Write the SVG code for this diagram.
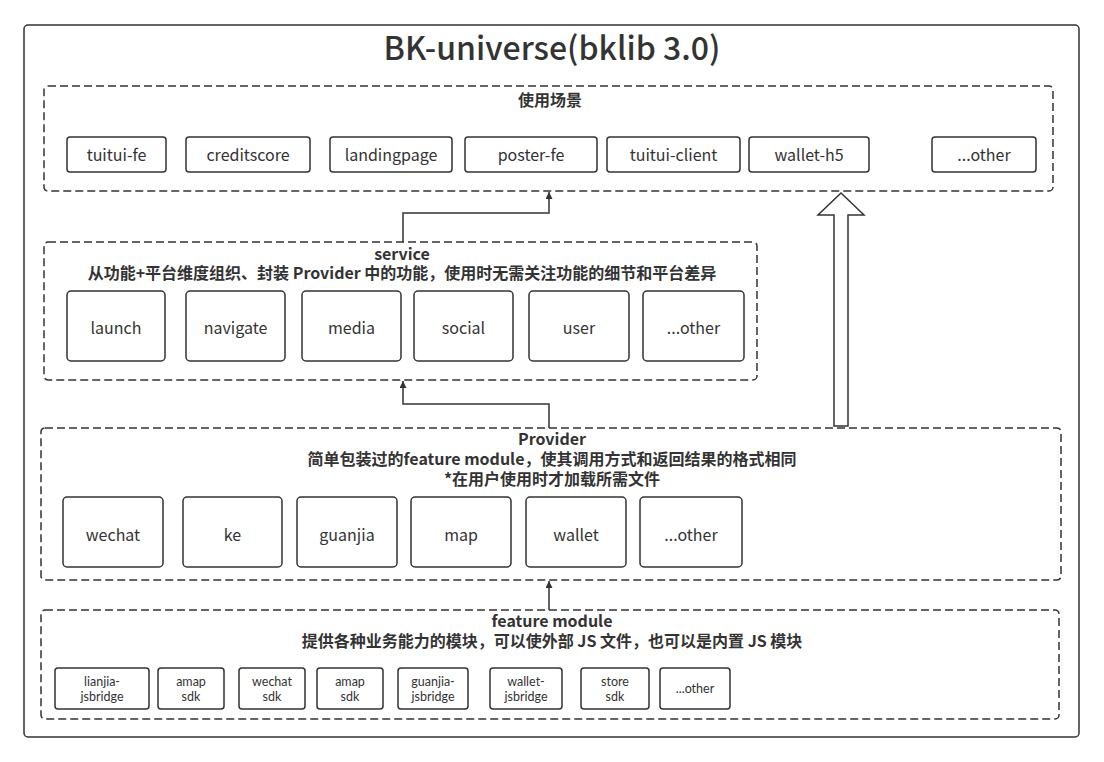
<svg xmlns="http://www.w3.org/2000/svg" width="1104" height="762" viewBox="0 0 1104 762">
<defs>
<style>
text{font-family:"Noto Sans CJK SC","Open Sans",sans-serif;fill:#333;text-anchor:middle}
.box{fill:#fff;stroke:#333;stroke-width:1.5}
.grp{fill:none;stroke:#333;stroke-width:1.5;stroke-dasharray:8 4}
.n{font-size:16px}
text.s{font-family:Lato,"Open Sans",sans-serif;font-size:12.5px}
.h{font-size:16px;font-weight:bold}
.title{font-size:32px;font-weight:500}
.con{fill:none;stroke:#333;stroke-width:1.5}
</style>
<marker id="ah" viewBox="0 0 10 10" refX="10" refY="5" markerWidth="7" markerHeight="7" markerUnits="userSpaceOnUse" orient="auto">
<path d="M0,0 L10,5 L0,10 z" fill="#333"/>
</marker>
</defs>
<rect width="1104" height="762" fill="#fff"/>
<g id="outer">
<rect x="24" y="25" width="1055" height="712" rx="4" class="box"/>
<text x="552" y="60" class="title">BK-universe(bklib 3.0)</text>
</g>
<g id="scenarios">
<rect x="44" y="86" width="1009" height="105" rx="4" class="grp"/>
<text x="550" y="106" class="h">使用场景</text>
</g>
<g id="tuitui-fe"><rect x="67" y="137" width="99" height="35" rx="3" class="box"/><text x="116.5" y="161" class="n">tuitui-fe</text></g>
<g id="creditscore"><rect x="186" y="137" width="124" height="35" rx="3" class="box"/><text x="248" y="161" class="n">creditscore</text></g>
<g id="landingpage"><rect x="330" y="137" width="122" height="35" rx="3" class="box"/><text x="391" y="161" class="n">landingpage</text></g>
<g id="poster-fe"><rect x="465" y="137" width="132" height="35" rx="3" class="box"/><text x="531" y="161" class="n">poster-fe</text></g>
<g id="tuitui-client"><rect x="607" y="137" width="133" height="35" rx="3" class="box"/><text x="673.5" y="161" class="n">tuitui-client</text></g>
<g id="wallet-h5"><rect x="749" y="137" width="120" height="35" rx="3" class="box"/><text x="809" y="161" class="n">wallet-h5</text></g>
<g id="scenario-other"><rect x="932" y="137" width="104" height="35" rx="3" class="box"/><text x="984" y="161" class="n">...other</text></g>

<g id="service">
<rect x="44" y="242" width="713" height="138" rx="4" class="grp"/>
<text x="402" y="260" class="h">service</text>
<text x="402" y="279" class="h">从功能+平台维度组织、封装 Provider 中的功能，使用时无需关注功能的细节和平台差异</text>
</g>
<g id="launch"><rect x="67" y="291" width="98" height="70" rx="4" class="box"/><text x="116" y="334" class="n">launch</text></g>
<g id="navigate"><rect x="186" y="291" width="99" height="70" rx="4" class="box"/><text x="235.5" y="334" class="n">navigate</text></g>
<g id="media"><rect x="302" y="291" width="99" height="70" rx="4" class="box"/><text x="351.5" y="334" class="n">media</text></g>
<g id="social"><rect x="414" y="291" width="99" height="70" rx="4" class="box"/><text x="463.5" y="334" class="n">social</text></g>
<g id="user"><rect x="529" y="291" width="100" height="70" rx="4" class="box"/><text x="579" y="334" class="n">user</text></g>
<g id="service-other"><rect x="643" y="291" width="101" height="70" rx="4" class="box"/><text x="693.5" y="334" class="n">...other</text></g>

<g id="provider">
<rect x="41" y="428" width="1020" height="152" rx="4" class="grp"/>
<text x="552" y="445" class="h">Provider</text>
<text x="552" y="465" class="h">简单包装过的feature module，使其调用方式和返回结果的格式相同</text>
<text x="552" y="485" class="h">*在用户使用时才加载所需文件</text>
</g>
<g id="wechat"><rect x="63" y="497" width="100" height="70" rx="4" class="box"/><text x="113" y="541" class="n">wechat</text></g>
<g id="ke"><rect x="183" y="497" width="99" height="70" rx="4" class="box"/><text x="232.5" y="541" class="n">ke</text></g>
<g id="guanjia"><rect x="297" y="497" width="100" height="70" rx="4" class="box"/><text x="347" y="541" class="n">guanjia</text></g>
<g id="map"><rect x="411" y="497" width="100" height="70" rx="4" class="box"/><text x="461" y="541" class="n">map</text></g>
<g id="wallet"><rect x="526" y="497" width="100" height="70" rx="4" class="box"/><text x="576" y="541" class="n">wallet</text></g>
<g id="provider-other"><rect x="640" y="497" width="102" height="70" rx="4" class="box"/><text x="691" y="541" class="n">...other</text></g>

<g id="feature-module">
<rect x="41" y="610" width="1018" height="109" rx="4" class="grp"/>
<text x="552" y="627" class="h">feature module</text>
<text x="552" y="647" class="h">提供各种业务能力的模块，可以使外部 JS 文件，也可以是内置 JS 模块</text>
</g>
<g id="lianjia-jsbridge"><rect x="55" y="668" width="94" height="41" rx="3" class="box"/><text class="s"><tspan x="102" y="686">lianjia-</tspan><tspan x="102" y="701">jsbridge</tspan></text></g>
<g id="amap-sdk-1"><rect x="158" y="668" width="66" height="41" rx="3" class="box"/><text class="s"><tspan x="191" y="686">amap</tspan><tspan x="191" y="701">sdk</tspan></text></g>
<g id="wechat-sdk"><rect x="239" y="668" width="66" height="41" rx="3" class="box"/><text class="s"><tspan x="272" y="686">wechat</tspan><tspan x="272" y="701">sdk</tspan></text></g>
<g id="amap-sdk-2"><rect x="317" y="668" width="66" height="41" rx="3" class="box"/><text class="s"><tspan x="350" y="686">amap</tspan><tspan x="350" y="701">sdk</tspan></text></g>
<g id="guanjia-jsbridge"><rect x="398" y="668" width="70" height="41" rx="3" class="box"/><text class="s"><tspan x="433" y="686">guanjia-</tspan><tspan x="433" y="701">jsbridge</tspan></text></g>
<g id="wallet-jsbridge"><rect x="490" y="668" width="72" height="41" rx="3" class="box"/><text class="s"><tspan x="526" y="686">wallet-</tspan><tspan x="526" y="701">jsbridge</tspan></text></g>
<g id="store-sdk"><rect x="581" y="668" width="68" height="41" rx="3" class="box"/><text class="s"><tspan x="615" y="686">store</tspan><tspan x="615" y="701">sdk</tspan></text></g>
<g id="feature-other"><rect x="660" y="668" width="70" height="41" rx="3" class="box"/><text x="695" y="693" class="s">...other</text></g>

<g id="connectors">
<path d="M403,242 V213 H549 V192" class="con" marker-end="url(#ah)"/>
<path d="M549,428 V404 H403 V381" class="con" marker-end="url(#ah)"/>
<path d="M549,610 V581" class="con" marker-end="url(#ah)"/>
<polygon points="841,193 818,215 834,215 834,426 848,426 848,215 864,215" fill="#fff" stroke="#333" stroke-width="1.5"/>
</g>
</svg>
